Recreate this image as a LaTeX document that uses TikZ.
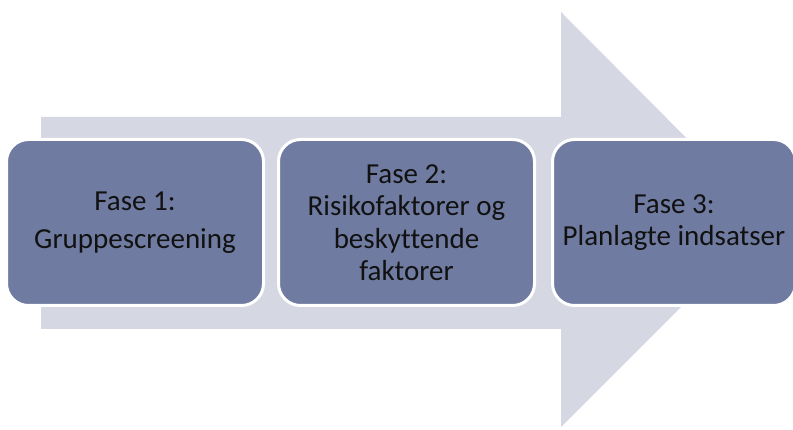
\documentclass[tikz,border=0pt]{standalone}
\usepackage{fontspec}
\setmainfont{Carlito}[Ligatures=NoCommon]
\usetikzlibrary{positioning}

\definecolor{shaftgray}{HTML}{D5D8E2}
\definecolor{phaseblue}{HTML}{6F7BA0}
\definecolor{phasetext}{HTML}{111111}

\tikzset{
  phase/.style={draw=white,line width=3pt,fill=phaseblue,rounded corners=22pt,
    minimum height=166pt,align=center,text=phasetext,
    font=\fontsize{29}{32.5}\selectfont,inner sep=0pt}
}

\begin{document}
\begin{tikzpicture}[x=1pt,y=1pt]
\useasboundingbox (0,0) rectangle (793,430);

% big arrow behind the phases
\fill[shaftgray] (41,313) -- (561,313) -- (561,418) -- (768,210) -- (561,3)
  -- (561,101) -- (41,101) -- cycle;

\node[phase,minimum width=257pt] (fase1) at (135,207.5)
  {Fase 1:\\[5pt]Gruppescreening};
\node[phase,minimum width=256pt] (fase2) at (406.5,207.5)
  {Fase 2:\\Risikofaktorer og\\beskyttende\\faktorer};
\node[phase,minimum width=243pt] (fase3) at (674,207.5)
  {Fase 3:\\Planlagte indsatser};
\end{tikzpicture}
\end{document}
